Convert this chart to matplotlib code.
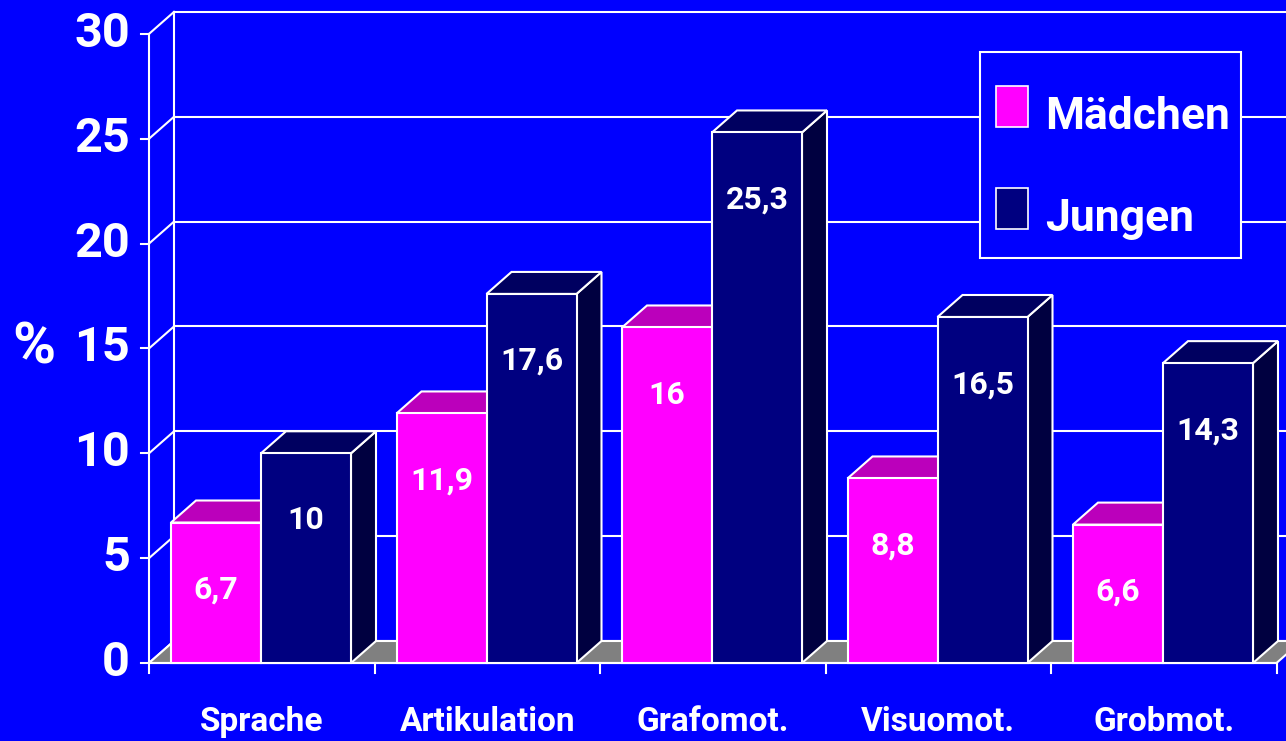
import matplotlib
matplotlib.use('Agg')
import matplotlib.pyplot as plt
from matplotlib.patches import Polygon, Rectangle

# data
categories = ['Sprache', 'Artikulation', 'Grafomot.', 'Visuomot.', 'Grobmot.']
maedchen = [6.7, 11.9, 16, 8.8, 6.6]
jungen = [10, 17.6, 25.3, 16.5, 14.3]
series_names = ['Mädchen', 'Jungen']
y_ticks = [0, 5, 10, 15, 20, 25, 30]

plt.rcParams['font.family'] = ['Roboto', 'DejaVu Sans']
plt.rcParams['font.weight'] = 'bold'

BLUE = '#0000FF'
FRONT = ['#FF00FF', '#000080']
TOP = ['#BB00BB', '#000060']
SIDE = ['#880088', '#000040']
FLOOR = '#808080'
W = 1286
H = 741

# pixel scale of the chart: one category = 225.5 px, one percent = 20.97 px
cat_px = 225.5
val_px = 20.97
DX = 25 / cat_px
DY = 22 / val_px
gap = 22 / cat_px
bw = 90 / cat_px
lw = 1.5

fig = plt.figure(figsize=(W / 100, H / 100), dpi=100, facecolor=BLUE)
ax = fig.add_axes([0, 0, 1, 1])
ax.set_facecolor(BLUE)
ax.axis('off')
ax.set_xlim(-149 / cat_px, (W - 149) / cat_px)
ax.set_ylim(-(H - 663) / val_px, 663 / val_px)

n = len(categories)
top_v = y_ticks[-1]

# back wall + side wall
for v in y_ticks:
    ax.plot([DX, n + DX], [v + DY, v + DY], color='white', lw=lw, zorder=1)
    ax.plot([0, DX], [v, v + DY], color='white', lw=lw, zorder=1)
    ax.plot([-8 / cat_px, 0], [v, v], color='white', lw=lw, zorder=1)
    ax.text(-19 / cat_px, v, str(v), ha='right', va='center', color='white',
            fontsize=35, fontweight='bold')
ax.plot([DX, DX], [DY, top_v + DY], color='white', lw=lw, zorder=1)
ax.plot([0, 0], [0, top_v], color='white', lw=lw, zorder=1)

# floor
ax.add_patch(Polygon([(0, 0), (n, 0), (n + DX, DY), (DX, DY)], closed=True,
                     facecolor=FLOOR, edgecolor='white', lw=lw, zorder=2))
ax.plot([0, n], [0, 0], color='white', lw=lw, zorder=2)
for i in range(n + 1):
    ax.plot([i, i], [0, -10 / val_px], color='white', lw=lw, zorder=2)

# bars
z = 3
for i in range(n):
    for s, vals in enumerate([maedchen, jungen]):
        h = vals[i]
        x0 = i + gap + s * bw
        x1 = x0 + bw
        ax.add_patch(Polygon([(x1, 0), (x1 + DX, DY), (x1 + DX, h + DY), (x1, h)],
                             closed=True, facecolor=SIDE[s], edgecolor='white', lw=lw, zorder=z))
        ax.add_patch(Polygon([(x0, h), (x1, h), (x1 + DX, h + DY), (x0 + DX, h + DY)],
                             closed=True, facecolor=TOP[s], edgecolor='white', lw=lw, zorder=z))
        ax.add_patch(Rectangle((x0, 0), bw, h, facecolor=FRONT[s], edgecolor='white',
                               lw=lw, zorder=z))
        ax.text(x0 + bw / 2, h - 3.2, f'{h:g}'.replace('.', ','), ha='center', va='center',
                color='white', fontsize=23, fontweight='bold', zorder=z + 1)
        z += 2
    ax.text(i + 0.5, -59 / val_px, categories[i], ha='center', va='center',
            color='white', fontsize=24, fontweight='bold')

ax.text(-115 / cat_px, 15, '%', ha='center', va='center', color='white',
        fontsize=42, fontweight='bold')


# legend, drawn by hand in figure pixels
def fx(px):
    return px / W


def fy(px):
    return 1 - px / H


fig.patches.append(Rectangle((fx(980), fy(258)), fx(1241) - fx(980), fy(52) - fy(258),
                             transform=fig.transFigure, facecolor=BLUE, edgecolor='white',
                             lw=lw, zorder=20))
for k, name in enumerate(series_names):
    top_px = 86 + k * 102
    fig.patches.append(Rectangle((fx(996), fy(top_px + 41)), fx(1028) - fx(996), fy(top_px) - fy(top_px + 41),
                                 transform=fig.transFigure, facecolor=FRONT[k],
                                 edgecolor='white', lw=1.2, zorder=21))
    fig.text(fx(1045), fy(top_px + 43), name, ha='left', va='baseline', color='white',
             fontsize=32, fontweight='bold', zorder=22)

fig.savefig('out.png', dpi=100, facecolor=BLUE)
